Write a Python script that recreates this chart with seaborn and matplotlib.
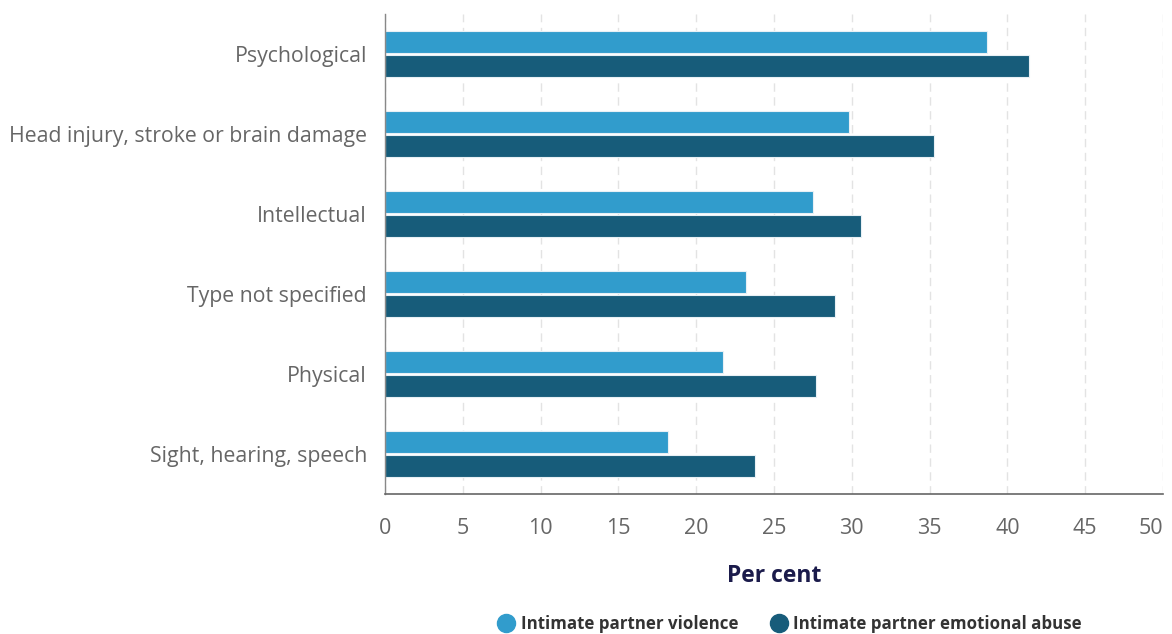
import pandas as pd
import seaborn as sns
import matplotlib.pyplot as plt
from matplotlib.lines import Line2D

# data (per cent)
categories = ['Psychological', 'Head injury, stroke or brain damage', 'Intellectual',
              'Type not specified', 'Physical', 'Sight, hearing, speech']
violence = [38.7, 29.8, 27.5, 23.2, 21.7, 18.2]
emotional = [41.4, 35.3, 30.6, 28.9, 27.7, 23.8]
series = ['Intimate partner violence', 'Intimate partner emotional abuse']
colors = ['#319ccc', '#175c7a']

df = pd.DataFrame({
    'category': categories * 2,
    'value': violence + emotional,
    'series': [series[0]] * len(categories) + [series[1]] * len(categories),
})

sns.set_style('white')
plt.rcParams['font.family'] = ['Open Sans', 'DejaVu Sans']

fig = plt.figure(figsize=(11.72, 6.34), dpi=100)
ax = fig.add_axes([385 / 1172, 1 - 494 / 634, 778 / 1172, 480 / 634])

sns.barplot(data=df, y='category', x='value', hue='series', order=categories,
            palette=colors, saturation=1, orient='h', width=0.6, gap=0.06, ax=ax,
            edgecolor='#e8f0f5', linewidth=0.8, legend=False)

ax.set_xlim(0, 50)
ax.set_ylim(5.5, -0.5)
ax.set_xticks(range(0, 51, 5))
ax.xaxis.grid(True, linestyle=(0, (6, 4)), color='#e3e3e3', linewidth=1)
ax.set_axisbelow(True)
ax.tick_params(axis='x', labelsize=15.5, colors='#666666', length=0, pad=17)
ax.tick_params(axis='y', labelsize=15.3, colors='#666666', length=0, pad=13)
# keep the last tick label inside the figure like the original
ax.get_xticklabels()[-1].set_horizontalalignment('right')
ax.set_ylabel('')
ax.set_xlabel('Per cent', fontsize=16.5, fontweight='bold', color='#1b1b4b', labelpad=18)

for s in ['top', 'right']:
    ax.spines[s].set_visible(False)
ax.spines['left'].set_color('#888888')
ax.spines['bottom'].set_color('#666666')
ax.spines['left'].set_linewidth(1)
ax.spines['bottom'].set_linewidth(1.2)

handles = [Line2D([], [], marker='o', linestyle='', markersize=13, color=c) for c in colors]
fig.legend(handles, series, loc='lower center', bbox_to_anchor=(0.674, -0.022), ncol=2,
           frameon=False, handletextpad=0.35, columnspacing=1.9, handlelength=1.0,
           prop={'size': 12.2, 'weight': 'bold'}, labelcolor='#333333')

fig.savefig('out.png', dpi=100)
